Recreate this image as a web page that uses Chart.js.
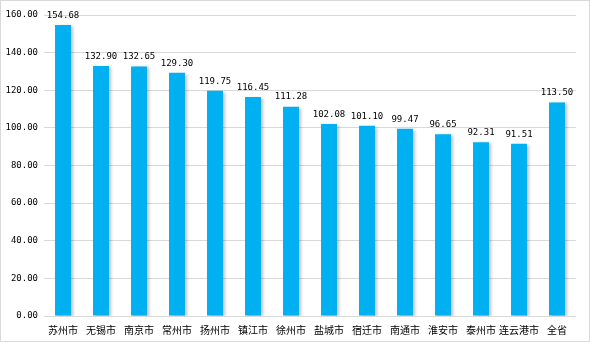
<!DOCTYPE html>
<html>
<head>
<meta charset="utf-8">
<script src="https://cdn.jsdelivr.net/npm/chart.js@4/dist/chart.umd.min.js"></script>
<style>
  html, body { margin: 0; padding: 0; background: #fff; }
  #wrap { width: 590px; height: 342px; box-sizing: border-box; border: 1px solid #d9d9d9; position: relative; }
  canvas { display: block; }
</style>
</head>
<body>
<div id="wrap"><canvas id="grafico" width="588" height="340"></canvas></div>
<script>
// dados
const cidades = ['苏州市', '无锡市', '南京市', '常州市', '扬州市', '镇江市', '徐州市', '盐城市', '宿迁市', '南通市', '淮安市', '泰州市', '连云港市', '全省'];
const valores = [154.68, 132.90, 132.65, 129.30, 119.75, 116.45, 111.28, 102.08, 101.10, 99.47, 96.65, 92.31, 91.51, 113.50];
const eixoMin = 0;
const eixoMax = 160;
const eixoPasso = 20;

const corBarra = '#00B0F0';
const fonteCJK = '"Noto Sans CJK SC", "DejaVu Sans", sans-serif';

// rótulos de valor acima das barras
const rotulosPlugin = {
  id: 'rotulos',
  afterDatasetsDraw(chart) {
    const ctx = chart.ctx;
    const meta = chart.getDatasetMeta(0);
    ctx.save();
    ctx.font = '9px "DejaVu Sans Mono", monospace';
    ctx.fillStyle = '#000';
    ctx.textAlign = 'center';
    ctx.textBaseline = 'bottom';
    meta.data.forEach((bar, i) => {
      ctx.fillText(valores[i].toFixed(2), bar.x, bar.y - 5);
    });
    ctx.restore();
  }
};

// sombra leve à direita das barras
const sombraPlugin = {
  id: 'sombra',
  beforeDatasetsDraw(chart) {
    const ctx = chart.ctx;
    ctx.save();
    ctx.shadowColor = 'rgba(0,0,0,0.25)';
    ctx.shadowBlur = 3;
    ctx.shadowOffsetX = 2;
    ctx.shadowOffsetY = 1;
  },
  afterDatasetsDraw(chart) {
    chart.ctx.restore();
  }
};

new Chart(document.getElementById('grafico'), {
  type: 'bar',
  data: {
    labels: cidades,
    datasets: [{
      data: valores,
      backgroundColor: corBarra,
      borderWidth: 0,
      barPercentage: 0.84,
      categoryPercentage: 0.5
    }]
  },
  options: {
    responsive: false,
    animation: false,
    layout: { padding: { top: 14, right: 13, left: 0, bottom: 5 } },
    plugins: {
      legend: { display: false },
      tooltip: { enabled: false }
    },
    scales: {
      x: {
        grid: { display: false },
        border: { display: false },
        ticks: {
          color: '#000',
          font: { family: fonteCJK, size: 10 },
          padding: 0,
          maxRotation: 0,
          autoSkip: false
        }
      },
      y: {
        min: eixoMin,
        max: eixoMax,
        afterFit(scale) { scale.width = 43; },
        grid: { color: '#d9d9d9', drawTicks: false },
        border: { display: false },
        ticks: {
          stepSize: eixoPasso,
          color: '#000',
          padding: 6,
          font: { family: '"DejaVu Sans Mono", monospace', size: 9 },
          callback: v => v.toFixed(2)
        }
      }
    }
  },
  plugins: [sombraPlugin, rotulosPlugin]
});
</script>
</body>
</html>
